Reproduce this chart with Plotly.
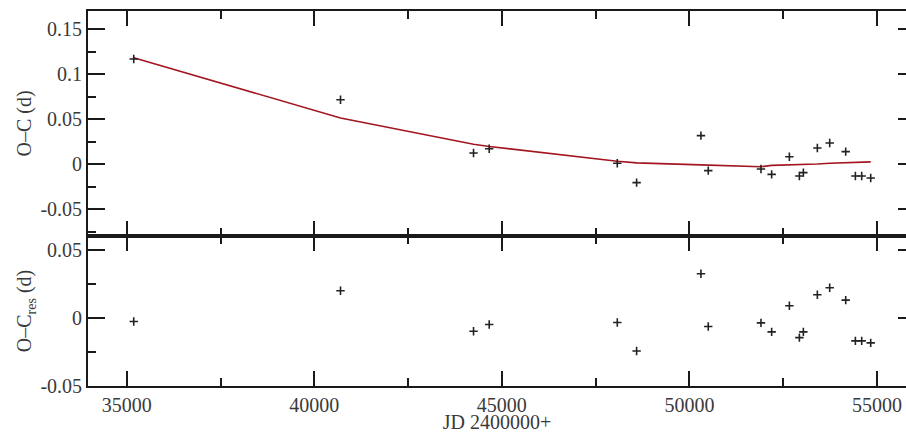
import plotly.graph_objects as go
from plotly.subplots import make_subplots

# Times of minimum (JD - 2400000) and O-C values in days
jd = [35187, 40699, 44245, 44663, 48077, 48592, 50307, 50502, 51907, 52192,
      52664, 52931, 53037, 53410, 53739, 54166, 54424, 54592, 54832]
oc = [0.1167, 0.0714, 0.0122, 0.0170, 0.0008, -0.0207, 0.0315, -0.0074, -0.0056, -0.0115,
      0.0081, -0.0133, -0.0096, 0.0178, 0.0233, 0.0137, -0.0133, -0.0133, -0.0156]
oc_fit = [0.1180, 0.0512, 0.0220, 0.0195, 0.0030, 0.0012, -0.0010, -0.0012, -0.0030, -0.0015,
          -0.0012, -0.0010, -0.0008, 0.0000, 0.0008, 0.0012, 0.0016, 0.0020, 0.0024]
oc_res = [-0.0027, 0.0198, -0.0098, -0.0049, -0.0034, -0.0243, 0.0323, -0.0064, -0.0037, -0.0103,
          0.0088, -0.0145, -0.0103, 0.0169, 0.0221, 0.0130, -0.0169, -0.0169, -0.0184]

x_range = [33968, 55773]
top_range = [-0.08, 0.17]
bot_range = [-0.05, 0.06]
top_ticks = [-0.05, 0, 0.05, 0.1, 0.15]
top_labels = ["-0.05", "0", "0.05", "0.1", "0.15"]
top_minor = [-0.075, -0.025, 0.025, 0.075, 0.125]
bot_ticks = [-0.05, 0, 0.05]
bot_labels = ["-0.05", "0", "0.05"]
bot_minor = [-0.025, 0.025]

FONT = "Liberation Serif"
INK = "#1a1a1a"
TEXT = "#3a3a3a"

fig = make_subplots(rows=2, cols=1, shared_xaxes=True, vertical_spacing=0,
                    row_heights=[0.6, 0.4])

marker = dict(symbol="cross-thin", size=6, line=dict(width=1.6, color="#222222"))

fig.add_trace(go.Scatter(x=jd, y=oc_fit, mode="lines",
                         line=dict(color="#a3161f", width=1.6),
                         hoverinfo="skip", showlegend=False), row=1, col=1)
fig.add_trace(go.Scatter(x=jd, y=oc, mode="markers", marker=marker,
                         showlegend=False), row=1, col=1)
fig.add_trace(go.Scatter(x=jd, y=oc_res, mode="markers", marker=marker,
                         showlegend=False), row=2, col=1)

# invisible traces carrying the right-hand tick axes
fig.add_trace(go.Scatter(x=jd, y=oc, mode="markers", marker=dict(opacity=0),
                         xaxis="x", yaxis="y3", hoverinfo="skip", showlegend=False))
fig.add_trace(go.Scatter(x=jd, y=oc_res, mode="markers", marker=dict(opacity=0),
                         xaxis="x2", yaxis="y4", hoverinfo="skip", showlegend=False))

xcommon = dict(range=x_range, showgrid=False, zeroline=False, showline=True,
               linewidth=1.8, mirror="ticks",
               ticks="inside", ticklen=15, tickwidth=1.5,
               tick0=0, dtick=5000,
               minor=dict(ticks="inside", ticklen=8, tickwidth=1.5,
                          tick0=0, dtick=2500))
fig.update_xaxes(**xcommon)
fig.update_xaxes(showticklabels=False, linecolor=INK, tickcolor=INK, row=1, col=1)
fig.update_xaxes(showticklabels=True, tickformat="d", linecolor=INK, tickcolor=INK,
                 tickfont=dict(family=FONT, size=20, color=TEXT),
                 title=dict(text="JD 2400000+", font=dict(family=FONT, size=20, color=TEXT),
                            standoff=0),
                 row=2, col=1)

ycommon = dict(showgrid=False, zeroline=False, showline=True, linecolor=INK,
               linewidth=1.8, ticks="inside", ticklen=17, tickwidth=1.5, tickcolor=INK,
               tickmode="array", tickfont=dict(family=FONT, size=20, color=TEXT))
fig.update_yaxes(range=top_range, tickvals=top_ticks, ticktext=top_labels,
                 minor=dict(tickmode="array", tickvals=top_minor, ticks="inside",
                            ticklen=8, tickwidth=1.5, tickcolor=INK),
                 title=dict(text="O–C (d)", font=dict(family=FONT, size=20, color=TEXT),
                            standoff=3),
                 row=1, col=1, **ycommon)
fig.update_yaxes(range=bot_range, tickvals=bot_ticks, ticktext=bot_labels,
                 minor=dict(tickmode="array", tickvals=bot_minor, ticks="inside",
                            ticklen=8, tickwidth=1.5, tickcolor=INK),
                 title=dict(text="O–C<sub>res</sub> (d)",
                            font=dict(family=FONT, size=20, color=TEXT), standoff=3),
                 row=2, col=1, **ycommon)

right = dict(side="right", showline=False, showgrid=False, zeroline=False,
             showticklabels=False, ticks="inside", ticklen=8, tickwidth=1.5,
             tickcolor=INK, tickmode="array")
fig.update_layout(
    yaxis3=dict(overlaying="y", anchor="x", range=top_range, tickvals=top_ticks, **right),
    yaxis4=dict(overlaying="y2", anchor="x2", range=bot_range, tickvals=bot_ticks, **right),
)

fig.update_layout(width=906, height=433,
                  margin=dict(l=88, r=0, t=11, b=47),
                  paper_bgcolor="white", plot_bgcolor="white",
                  font=dict(family=FONT, size=20, color=TEXT),
                  showlegend=False)

fig.write_html("out.html")
